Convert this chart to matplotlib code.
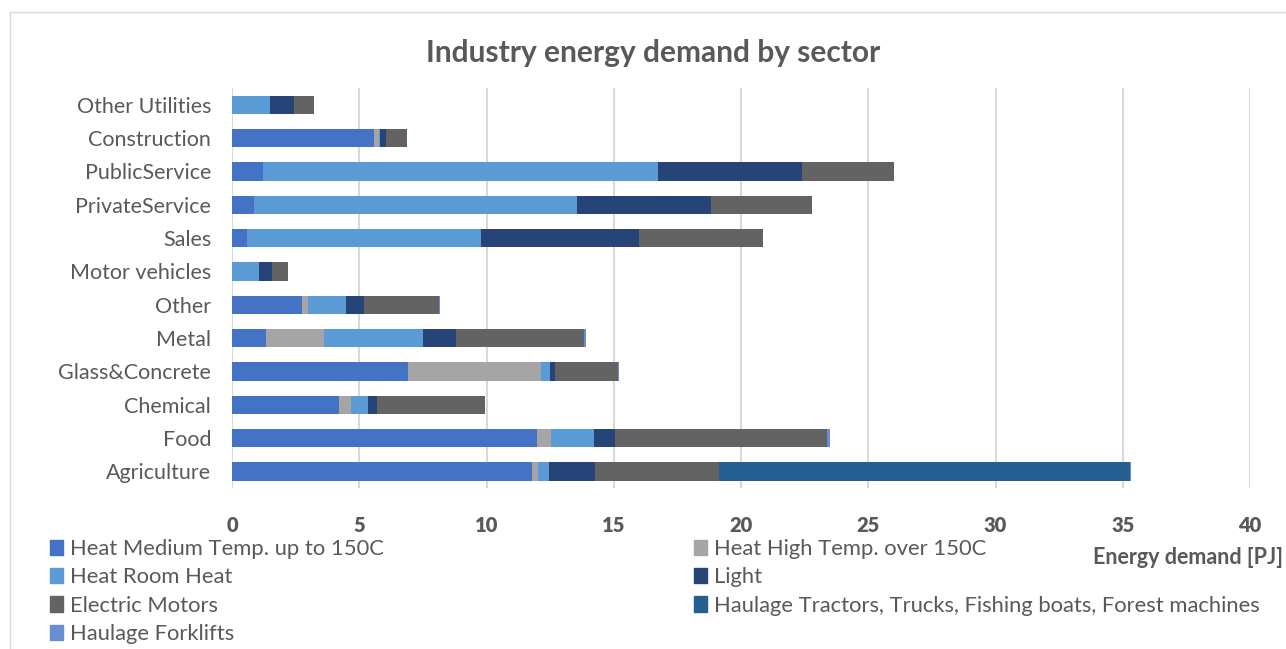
import matplotlib.pyplot as plt
import numpy as np
from matplotlib.patches import Patch, Rectangle

plt.rcParams['font.family'] = ['Lato', 'DejaVu Sans']

# categories, bottom to top
sectors = ['Agriculture', 'Food', 'Chemical', 'Glass&Concrete', 'Metal', 'Other',
           'Motor vehicles', 'Sales', 'PrivateService', 'PublicService',
           'Construction', 'Other Utilities']

# energy demand [PJ] per end use, same order as sectors
heat_medium = [11.77, 12.00, 4.20, 6.92, 1.32, 2.76, 0.00, 0.58, 0.86, 1.20, 5.59, 0.00]
heat_high = [0.25, 0.55, 0.49, 5.22, 2.28, 0.21, 0.00, 0.00, 0.00, 0.00, 0.19, 0.00]
heat_room = [0.44, 1.69, 0.67, 0.34, 3.90, 1.51, 1.07, 9.21, 12.69, 15.53, 0.05, 1.48]
light = [1.79, 0.82, 0.33, 0.21, 1.29, 0.69, 0.51, 6.22, 5.27, 5.68, 0.23, 0.96]
motors = [4.89, 8.33, 4.27, 2.48, 5.04, 2.97, 0.62, 4.85, 3.97, 3.59, 0.83, 0.79]
haulage_trucks = [16.13, 0, 0, 0, 0, 0, 0, 0, 0, 0, 0, 0]
haulage_forklifts = [0.07, 0.12, 0.00, 0.05, 0.07, 0.05, 0, 0, 0, 0, 0, 0]
xticks = [0, 5, 10, 15, 20, 25, 30, 35, 40]

series = [
    ('Heat Medium Temp. up to 150C', heat_medium, '#4472C4'),
    ('Heat High Temp. over 150C', heat_high, '#A5A5A5'),
    ('Heat Room Heat', heat_room, '#5B9BD5'),
    ('Light', light, '#264478'),
    ('Electric Motors', motors, '#636363'),
    ('Haulage Tractors, Trucks, Fishing boats, Forest machines', haulage_trucks, '#255E91'),
    ('Haulage Forklifts', haulage_forklifts, '#698ED0'),
]

grey = '#595959'
fig = plt.figure(figsize=(12.86, 6.49), dpi=100)
ax = fig.add_axes([232 / 1286, 1 - 488 / 649, (1250 - 232) / 1286, 400 / 649])

y = np.arange(len(sectors))
left = np.zeros(len(sectors))
for name, vals, col in series:
    vals = np.array(vals)
    ax.barh(y, vals, left=left, height=0.55, color=col, label=name)
    left += vals

ax.set_xlim(0, 40)
ax.set_ylim(-0.5, len(sectors) - 0.5)
ax.set_xticks(xticks)
ax.set_xticklabels([str(t) for t in xticks])
ax.set_yticks(y, labels=sectors, fontsize=15.5, color=grey)
ax.tick_params(axis='x', length=0, pad=20)
ax.tick_params(axis='y', length=0, pad=15)
plt.setp(ax.get_xticklabels(), fontweight='heavy', fontsize=14.5, color=grey)
ax.grid(axis='x', color='#D9D9D9', linewidth=1.5)
ax.set_axisbelow(True)
for s in ax.spines.values():
    s.set_visible(False)
ax.axvline(0, color='#BFBFBF', linewidth=1.2, zorder=0.5)

fig.text(653 / 1286, 1 - 53 / 649, 'Industry energy demand by sector',
         ha='center', va='center', fontsize=21.5, fontweight='bold', color=grey)
fig.text(1283 / 1286, 1 - 557 / 649, 'Energy demand [PJ]', ha='right', va='center',
         fontsize=15.5, fontweight='bold', color=grey)

# legend in two columns, filled row by row like the original
handles = [Patch(color=c, label=n) for n, v, c in series]
col1 = [handles[0], handles[2], handles[4], handles[6]]
col2 = [handles[1], handles[3], handles[5]]
for hs, x0 in [(col1, 50 / 1286), (col2, 694 / 1286)]:
    fig.legend(handles=hs, loc='upper left', bbox_to_anchor=(x0, 1 - 539 / 649),
               frameon=False, fontsize=15.8, handlelength=0.6, handleheight=0.7,
               handletextpad=0.3, labelspacing=0.38, labelcolor=grey,
               borderaxespad=0, borderpad=0)

fig.patches.append(Rectangle((10 / 1286, -0.01), 1.1, 1 - 12 / 649 + 0.01,
                             transform=fig.transFigure, fill=False,
                             edgecolor='#D9D9D9', linewidth=1))

fig.savefig('out.png', dpi=100)
